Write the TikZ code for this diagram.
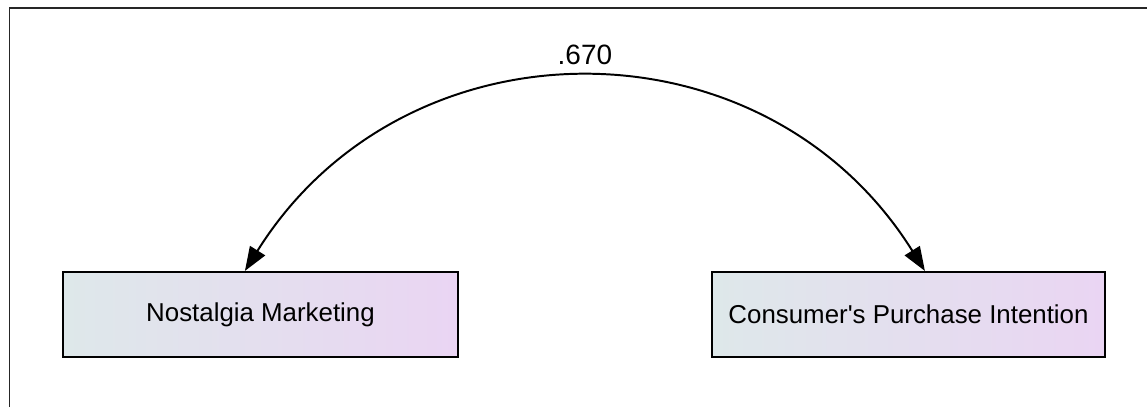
\documentclass[tikz,border=0pt]{standalone}
\usepackage{fontspec}
\setmainfont{Liberation Sans}
\usetikzlibrary{arrows.meta}
\definecolor{boxleft}{RGB}{222,232,234}
\definecolor{boxright}{RGB}{234,213,243}
\begin{document}
\begin{tikzpicture}
    \tikzstyle{cov} = [<->,>={Triangle[length=6mm,width=4.4mm]}, line width=1.4pt]
    \tikzstyle{var} = [rectangle, draw=black, line width=1.5pt, align=center,
        minimum height=2.125cm, left color=boxleft, right color=boxright,
        font=\fontsize{18.4}{22}\selectfont]

    \useasboundingbox (0,0) rectangle (28.675,10.175);
    \draw[line width=1.2pt, black!85] (0.2375,0) |- (28.675,9.975);

    \node(nostalgia) [var, minimum width=9.875cm]
        at (6.5125,2.3125)
        {Nostalgia Marketing};
    \node(intention) [var, minimum width=9.825cm]
        at (22.7125,2.3125)
        {Consumer\textquotesingle s Purchase Intention};

    \draw[cov] ([xshift=-0.39cm]nostalgia.north)
        to[bend left=58, looseness=1.14]
        node(estimate) [above=6pt, font=\fontsize{19.9}{24}\selectfont] {.670}
        ([xshift=0.41cm]intention.north);
\end{tikzpicture}
\end{document}
